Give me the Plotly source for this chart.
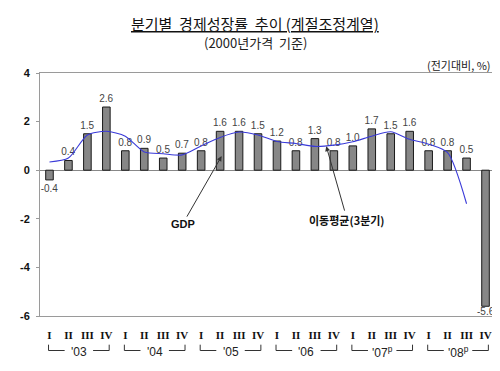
import plotly.graph_objects as go

# ---- data ----
years = ["'03", "'04", "'05", "'06", "'07<sup>p</sup>", "'08<sup>p</sup>"]
quarters = ["I", "II", "III", "IV"]
gdp_growth = [-0.4, 0.4, 1.5, 2.6,
              0.8, 0.9, 0.5, 0.7,
              0.8, 1.6, 1.6, 1.5,
              1.2, 0.8, 1.3, 0.8,
              1.0, 1.7, 1.5, 1.6,
              0.8, 0.8, 0.5, -5.6]
moving_avg_3q = [0.34, 0.5, 1.45, 1.6,
                 1.4, 0.75, 0.68, 0.63,
                 1.0, 1.35, 1.57, 1.45,
                 1.18, 1.1, 0.98, 1.03,
                 1.17, 1.4, 1.58, 1.27,
                 1.07, 0.72, -1.38, None]
y_ticks = [-6, -4, -2, 0, 2, 4]

categories = [f"{y} {q}" for y in years for q in quarters]
tick_text = [f"<b>{q}</b>" for _ in years for q in quarters]

KR = "Noto Sans CJK KR, Noto Sans, sans-serif"
SANS = "Liberation Sans, Arial, sans-serif"

# labels: the last (large negative) one is placed separately inside the frame
bar_labels = [f"{v:.1f}" for v in gdp_growth[:-1]] + [""]

fig = go.Figure()
fig.add_trace(go.Bar(
    x=categories, y=gdp_growth,
    marker=dict(color="#878787", line=dict(color="#1a1a1a", width=1)),
    text=bar_labels,
    textposition="outside", constraintext="none", cliponaxis=False,
    textfont=dict(family=SANS, size=10, color="#444444"),
    width=0.4, showlegend=False, hoverinfo="skip",
))
fig.add_trace(go.Scatter(
    x=categories, y=moving_avg_3q, mode="lines",
    line=dict(color="#3a3ad8", width=1.1, shape="spline", smoothing=0.7),
    connectgaps=False, showlegend=False, hoverinfo="skip",
))

shapes = []
annotations = [
    dict(xref="x", yref="y", x=categories[-1], y=gdp_growth[-1], yshift=-5,
         text=f"{gdp_growth[-1]:.1f}", showarrow=False,
         font=dict(family=SANS, size=10, color="#444444"),
         xanchor="center", yanchor="middle"),
]

# year brackets under the quarter labels
for k, yr in enumerate(years):
    left = 4 * k - 0.05
    right = 4 * k + 3.15
    mid = 4 * k + 1.55
    yv0, yv1 = -0.118, -0.142
    line = dict(color="#333333", width=1)
    shapes += [
        dict(type="line", xref="x", yref="paper", x0=left, x1=left, y0=yv0, y1=yv1, line=line),
        dict(type="line", xref="x", yref="paper", x0=left, x1=mid - 0.75, y0=yv1, y1=yv1, line=line),
        dict(type="line", xref="x", yref="paper", x0=mid + 0.75, x1=right, y0=yv1, y1=yv1, line=line),
        dict(type="line", xref="x", yref="paper", x0=right, x1=right, y0=yv1, y1=yv0, line=line),
    ]
    annotations.append(dict(xref="x", yref="paper", x=mid, y=-0.148, text=yr, showarrow=False,
                            font=dict(family=SANS, size=12, color="#222222"),
                            xanchor="center", yanchor="middle"))

PH = 243.0  # plot height in px
annotations += [
    dict(xref="paper", yref="paper", x=(245 - 27) / 461, y=(308 - 16) / PH,
         text="<u>분기별  경제성장률  추이 (계절조정계열)</u>", showarrow=False,
         font=dict(family=KR, size=15, color="#111111"), xanchor="center", yanchor="middle"),
    dict(xref="paper", yref="paper", x=(245 - 27) / 461, y=(308 - 35) / PH,
         text="(2000년가격  기준)", showarrow=False,
         font=dict(family=KR, size=13, color="#222222"), xanchor="center", yanchor="middle"),
    dict(xref="paper", yref="paper", x=(486 - 27) / 461, y=(308 - 57) / PH,
         text="(전기대비, %)", showarrow=False,
         font=dict(family=KR, size=11, color="#222222"), xanchor="right", yanchor="middle"),
    # callouts
    dict(xref="x", yref="y", x=9.08, y=0.58, ax=-39, ay=68,
         text="<b>GDP</b>", showarrow=True, arrowhead=2, arrowsize=1, arrowwidth=1,
         arrowcolor="#333333", font=dict(family=SANS, size=11, color="#111111")),
    dict(xref="x", yref="y", x=14.6, y=0.99, ax=21, ay=74,
         text="<b>이동평균(3분기)</b>", showarrow=True, arrowhead=2, arrowsize=1, arrowwidth=1,
         arrowcolor="#333333", font=dict(family=KR, size=11, color="#111111")),
]

fig.update_layout(
    width=500, height=371,
    margin=dict(l=27, r=12, t=65, b=63),
    paper_bgcolor="white", plot_bgcolor="white",
    shapes=shapes, annotations=annotations,
    xaxis=dict(
        type="category", categoryorder="array", categoryarray=categories,
        tickmode="array", tickvals=categories, ticktext=tick_text,
        ticks="", ticklabelstandoff=9,
        tickfont=dict(family="Liberation Serif, serif", size=11, color="#111111"),
        showline=True, mirror=True, linecolor="#9a9a9a", linewidth=1,
        showgrid=False, zeroline=False, range=[-0.5, 23.5],
    ),
    yaxis=dict(
        range=[-6, 4], tickmode="array", tickvals=y_ticks,
        ticktext=[f"<b>{v}</b>" for v in y_ticks],
        ticks="outside", ticklen=3, tickcolor="#9a9a9a", ticklabelstandoff=4,
        tickfont=dict(family=SANS, size=11, color="#111111"),
        showline=True, mirror=True, linecolor="#9a9a9a", linewidth=1,
        showgrid=False, zeroline=True, zerolinecolor="#888888", zerolinewidth=1,
    ),
)

fig.write_html("out.html")
